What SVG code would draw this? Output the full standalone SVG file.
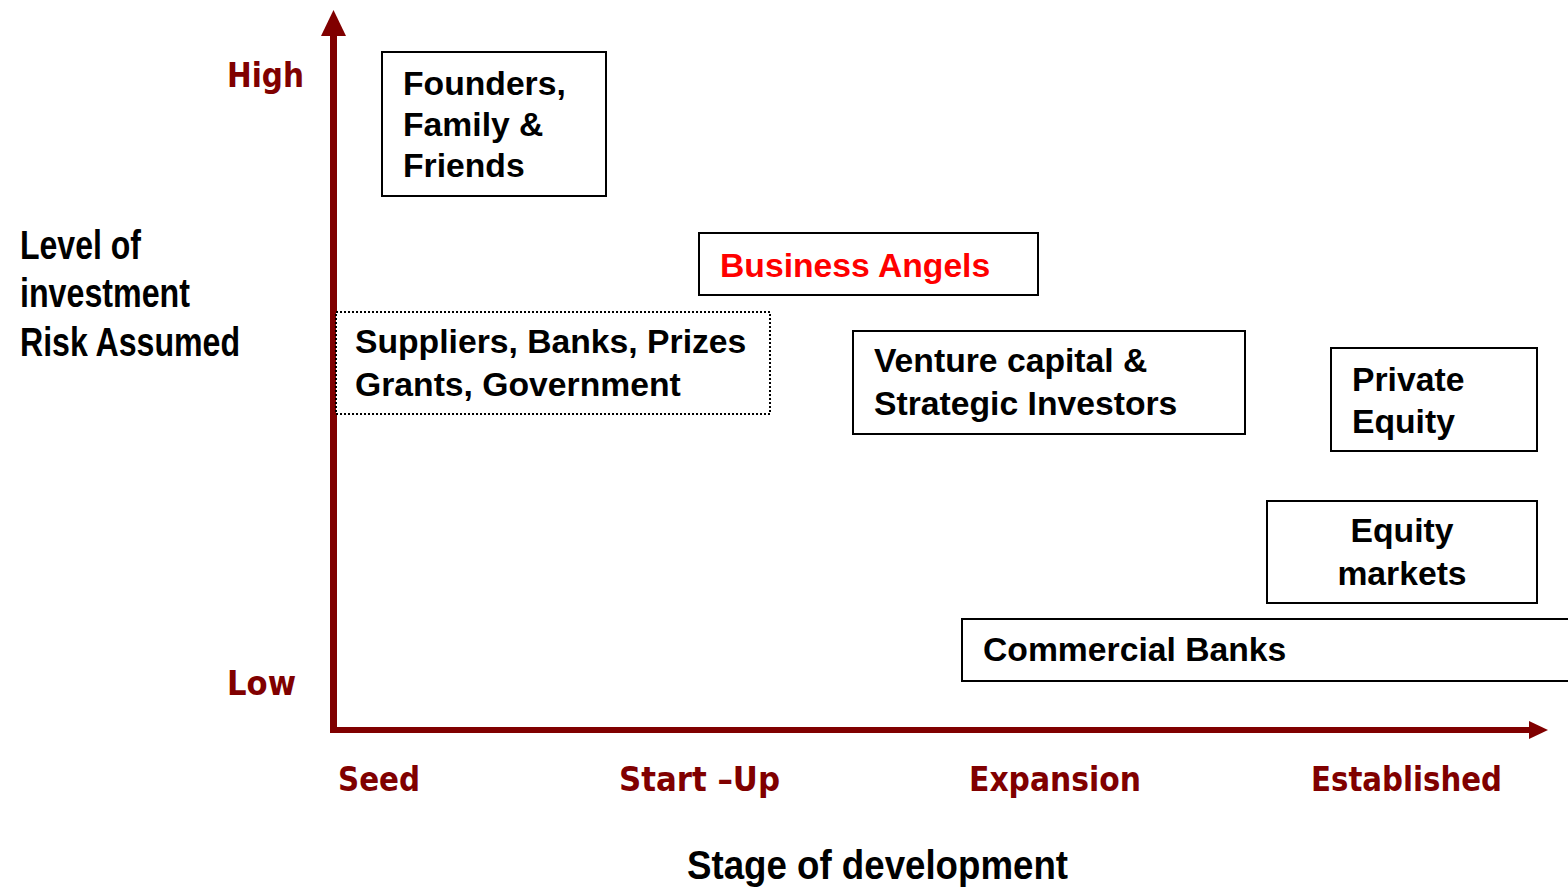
<svg xmlns="http://www.w3.org/2000/svg" width="1568" height="887" viewBox="0 0 1568 887">
  <style>
    .box { fill: #fff; stroke: #000; stroke-width: 2; }
    .dotted { fill: #fff; stroke: #000; stroke-width: 2; stroke-dasharray: 2 2; }
    .txt { font-family: "Liberation Sans", Arial, sans-serif; font-weight: bold; font-size: 33.7px; fill: #000; }
    .red { fill: #ff0000; }
    .stage { font-family: "DejaVu Sans Condensed", "DejaVu Sans", sans-serif; font-weight: bold; font-size: 33px; fill: #800000; }
    .axis-title { font-family: "Liberation Sans Narrow", "Liberation Sans", Arial, sans-serif; font-weight: bold; font-size: 40px; fill: #000; }
    .axis { stroke: #800000; fill: none; }
    .head { fill: #800000; }
  </style>

  <rect width="1568" height="887" fill="#fff"/>

  <!-- axes -->
  <g id="connectors">
    <line class="axis" x1="333.5" y1="33" x2="333.5" y2="733" stroke-width="7"/>
    <polygon class="head" points="333.5,10 321,36 346,36"/>
    <line class="axis" x1="330" y1="730" x2="1532" y2="730" stroke-width="6"/>
    <polygon class="head" points="1548,730 1529,721 1529,739"/>
  </g>

  <!-- axis scale labels -->
  <g id="risk-scale">
    <text class="stage" x="227" y="87" textLength="77" lengthAdjust="spacingAndGlyphs">High</text>
    <text class="stage" x="227" y="695" textLength="69" lengthAdjust="spacingAndGlyphs">Low</text>
  </g>
  <g id="stages">
    <text class="stage" x="338" y="791" textLength="82" lengthAdjust="spacingAndGlyphs">Seed</text>
    <text class="stage" x="619" y="791" textLength="161" lengthAdjust="spacingAndGlyphs">Start –Up</text>
    <text class="stage" x="969" y="791" textLength="172" lengthAdjust="spacingAndGlyphs">Expansion</text>
    <text class="stage" x="1311" y="791" textLength="191" lengthAdjust="spacingAndGlyphs">Established</text>
  </g>

  <!-- axis titles -->
  <g id="y-title">
    <text class="axis-title" x="20" y="259" textLength="121" lengthAdjust="spacingAndGlyphs">Level of</text>
    <text class="axis-title" x="20" y="307" textLength="170" lengthAdjust="spacingAndGlyphs">investment</text>
    <text class="axis-title" x="20" y="356" textLength="220" lengthAdjust="spacingAndGlyphs">Risk Assumed</text>
  </g>
  <g id="x-title">
    <text class="axis-title" x="687" y="879" textLength="381" lengthAdjust="spacingAndGlyphs">Stage of development</text>
  </g>

  <!-- funding sources -->
  <g id="founders">
    <rect class="box" x="382" y="52" width="224" height="144"/>
    <text class="txt" x="403" y="95">Founders,</text>
    <text class="txt" x="403" y="136">Family &amp;</text>
    <text class="txt" x="403" y="177">Friends</text>
  </g>

  <g id="business-angels">
    <rect class="box" x="699" y="233" width="339" height="62"/>
    <text class="txt red" x="720" y="277">Business Angels</text>
  </g>

  <g id="suppliers">
    <rect class="dotted" x="336" y="312" width="434" height="102"/>
    <text class="txt" x="355" y="353">Suppliers, Banks, Prizes</text>
    <text class="txt" x="355" y="396">Grants, Government</text>
  </g>

  <g id="venture-capital">
    <rect class="box" x="853" y="331" width="392" height="103"/>
    <text class="txt" x="874" y="372">Venture capital &amp;</text>
    <text class="txt" x="874" y="415">Strategic Investors</text>
  </g>

  <g id="private-equity">
    <rect class="box" x="1331" y="348" width="206" height="103"/>
    <text class="txt" x="1352" y="391">Private</text>
    <text class="txt" x="1352" y="433">Equity</text>
  </g>

  <g id="equity-markets">
    <rect class="box" x="1267" y="501" width="270" height="102"/>
    <text class="txt" x="1402" y="542" text-anchor="middle">Equity</text>
    <text class="txt" x="1402" y="585" text-anchor="middle">markets</text>
  </g>

  <g id="commercial-banks">
    <rect class="box" x="962" y="619" width="620" height="62"/>
    <text class="txt" x="983" y="661">Commercial Banks</text>
  </g>
</svg>
